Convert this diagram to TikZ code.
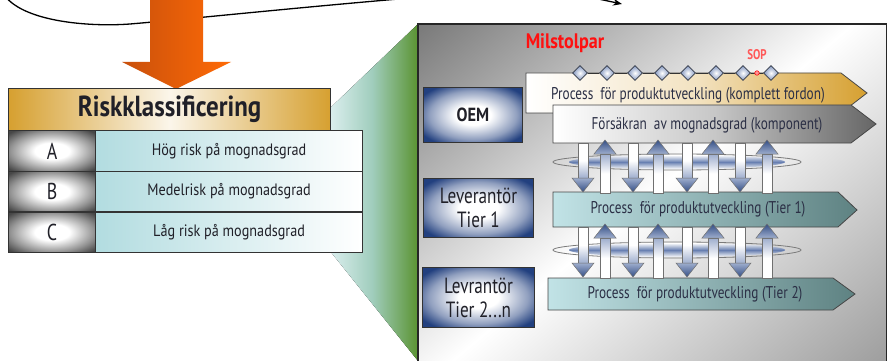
\documentclass[tikz,border=0pt]{standalone}
\usepackage{fontspec}
\setmainfont{PT Sans}
\newfontfamily\condfont{PT Sans}[FakeStretch=0.86]
\newfontfamily\barfont{PT Sans}[FakeStretch=0.78]
\usetikzlibrary{shapes.geometric,arrows.meta,calc}

\definecolor{orangeHi}{HTML}{FF6A06}
\definecolor{orangeLo}{HTML}{C8500C}
\definecolor{goldTone}{HTML}{D6A030}
\definecolor{iceCyan}{HTML}{B2DCE0}
\definecolor{leafGreen}{HTML}{5A9331}
\definecolor{navyTone}{HTML}{22407F}
\definecolor{inkText}{HTML}{202028}
\definecolor{barInk}{HTML}{2B2F45}
\definecolor{slateTeal}{HTML}{5E8282}
\definecolor{steelGray}{HTML}{666666}
\definecolor{steelBlue}{HTML}{3D5C9C}
\definecolor{edgeGray}{HTML}{333333}
\definecolor{signalRed}{HTML}{FF1010}

% box-like glows, stretched to the node that uses them
\pgfdeclareradialshading{navyglow}{\pgfpoint{0bp}{0bp}}{color(0bp)=(white); color(9bp)=(white); color(22bp)=(navyTone!50!white); color(31bp)=(navyTone); color(50bp)=(navyTone)}
\pgfdeclareradialshading{grayglow}{\pgfpoint{0bp}{0bp}}{color(0bp)=(white); color(10bp)=(white); color(24bp)=(black!42); color(33bp)=(black!72); color(50bp)=(black!72)}

\tikzset{
  headercell/.style={draw=edgeGray, line width=1.2pt, left color=goldTone, right color=goldTone, middle color=goldTone!10!white,
    anchor=north west, inner sep=0pt, text=inkText, font=\condfont\bfseries\fontsize{29}{29}\selectfont},
  lettercell/.style={draw=edgeGray, line width=1.2pt, shading=grayglow, anchor=north west, inner sep=0pt,
    minimum width=87pt, minimum height=40.7pt, text=inkText, font=\barfont\fontsize{23}{23}\selectfont},
  riskcell/.style={draw=edgeGray, line width=1.2pt, left color=iceCyan, right color=white, anchor=north west, inner sep=0pt,
    minimum width=267pt, minimum height=40.7pt, text=inkText, font=\condfont\fontsize{16.5}{16.5}\selectfont},
  rolebox/.style={draw=edgeGray, line width=1pt, shading=navyglow, anchor=north west, inner sep=0pt, align=center,
    text=inkText, font=\barfont\fontsize{22}{24}\selectfont},
  bartext/.style={text=barInk, inner sep=0pt, font=\barfont\fontsize{17}{17}\selectfont},
  gem/.style={diamond, draw=edgeGray!80!steelBlue, line width=0.8pt, inner color=white, outer color=steelBlue!65!white,
    minimum width=15pt, minimum height=15pt, inner sep=0pt},
  outline/.style={draw=edgeGray!90, line width=0.8pt},
  flowedge/.style={draw=edgeGray!70, line width=0.5pt},
}

% down-pointing flow arrow: x, top of shaft, tip
\newcommand\flowdown[3]{%
  \path[flowedge, top color=white, bottom color=steelBlue!50!white, middle color=white] (#1-5,#2) rectangle (#1+5,#3-14);
  \path[flowedge, top color=steelBlue!50!white, bottom color=steelBlue!85!black] (#1-11,#3-14) -- (#1+11,#3-14) -- (#1,#3) -- cycle;
}
% up-pointing flow arrow: x, bottom of shaft, tip
\newcommand\flowup[3]{%
  \path[flowedge, bottom color=white, top color=steelBlue!50!white, middle color=white] (#1-5,#2) rectangle (#1+5,#3+14);
  \path[flowedge, bottom color=steelBlue!50!white, top color=steelBlue!85!black] (#1-11,#3+14) -- (#1+11,#3+14) -- (#1,#3) -- cycle;
}
% ring with a blue band around a group of flow arrows: y centre
\newcommand\flowring[1]{%
  \path[top color=white, bottom color=white, middle color=steelBlue!85!white, opacity=0.9] (677,#1) ellipse [x radius=108, y radius=7];
  \draw[edgeGray!65, line width=0.8pt] (677,#1) ellipse [x radius=124, y radius=8];
}

\begin{document}
\begin{tikzpicture}[x=1pt, y=-1pt]
\useasboundingbox (0,0) rectangle (887,361);
\clip (0,0) rectangle (887,361);
\fill[white] (0,0) rectangle (887,361);

% feedback curve along the top edge
\coordinate (curveA) at (5,-4);
\coordinate (curveB) at (460,-6);
\draw[line width=1.3pt] (curveA) .. controls (25,22) and (90,27) .. (130,24) .. controls (190,19) and (330,4) .. (curveB);
\coordinate (tipA) at (530,-14);
\coordinate (tipB) at (622,4);
\draw[line width=1.3pt, -{Stealth[length=9pt,width=7pt]}] (tipA) .. controls (575,-6) .. (tipB);

% perspective funnel between table and panel
\fill[left color=iceCyan!40!white, right color=leafGreen, middle color=iceCyan!80!leafGreen]
  (418,24) -- (418,361) -- (326,246) -- (326,112) -- cycle;

% process panel: diagonal grey sheen
\node[anchor=north west, inner sep=0pt, minimum width=468pt, minimum height=337pt] (panel) at (418,24) {};
\begin{scope}
  \clip (panel.north west) rectangle (panel.south east);
  \shade[transform canvas={rotate around={40:(panel.center)}}, top color=black!62, bottom color=black!45, middle color=white]
    ($(panel.center)+(-620,-330)$) rectangle ($(panel.center)+(620,330)$);
\end{scope}
\draw[black!85, line width=1.5pt] (panel.north west) rectangle (panel.south east);

% orange arrow into the classification
\path[left color=orangeLo, right color=orangeHi]
  (150,-2) -- (203,-2) -- (203,62) -- (231,62) -- (176,89) -- (122,62) -- (150,62) -- cycle;

% classification table
\node[headercell, minimum width=322pt, minimum height=42pt] (hdr) at (8,88) {Riskklassificering};
\node[lettercell] (ra) at (8,130) {A};
\node[riskcell] (rat) at (95,130) {Hög risk på mognadsgrad};
\node[lettercell] (rb) at (8,170.7) {B};
\node[riskcell] (rbt) at (95,170.7) {Medelrisk på mognadsgrad};
\node[lettercell] (rc) at (8,211.3) {C};
\node[riskcell] (rct) at (95,211.3) {Låg risk på mognadsgrad};

% milestone title
\node[text=signalRed, inner sep=0pt, font=\condfont\bfseries\fontsize{21}{21}\selectfont] (mst) at (565,43) {Milstolpar};

% actor boxes
\node[rolebox, minimum width=99pt, minimum height=55pt] (oem) at (423,87) {\condfont\bfseries\fontsize{19}{19}\selectfont OEM};
\node[rolebox, minimum width=110pt, minimum height=59pt] (tier1) at (423,178) {Leverantör\\Tier 1};
\node[rolebox, minimum width=112pt, minimum height=60pt] (tier2) at (422,267) {Levrantör\\Tier 2...n};

% process bars
\path[outline, left color=white, right color=goldTone, middle color=goldTone!30!white]
  (526,73) -- (841,73) -- (867,93) -- (841,113) -- (526,113) -- cycle;
\node[bartext] (bar1) at (688,95) {Process \ för produktutveckling (komplett fordon)};
\path[outline, left color=white, right color=steelGray, middle color=black!22]
  (553,105) -- (851,105) -- (876,124) -- (851,143) -- (553,143) -- cycle;
\node[bartext] (bar2) at (707,125) {Försäkran \ av mognadsgrad (komponent)};
\path[outline, left color=iceCyan!80!white, right color=slateTeal]
  (553,192) -- (838,192) -- (857,210) -- (838,227) -- (553,227) -- cycle;
\node[bartext] (bar3) at (698,209) {Process \ för produktutveckling (Tier 1)};
\path[outline, left color=iceCyan!80!white, right color=slateTeal]
  (548,278) -- (833,278) -- (855,294) -- (833,310) -- (548,310) -- cycle;
\node[bartext] (bar4) at (695,294) {Process \ för produktutveckling (Tier 2)};

% milestones on the vehicle process
\foreach \x [count=\i] in {580,607,635,662,688,716,743,771}
  \node[gem] (m\i) at (\x,73) {};
\foreach \i [evaluate=\i as \j using int(\i+1)] in {1,...,7}
  \draw[edgeGray, line width=0.8pt] (m\i.east) -- (m\j.west);
\node[circle, draw=signalRed, fill=signalRed!45!white, line width=0.6pt, minimum size=4.5pt, inner sep=0pt] (sopmark) at (757,73) {};
\node[text=signalRed!70!white, inner sep=0pt, font=\barfont\bfseries\fontsize{14}{14}\selectfont] (sop) at (757,55) {SOP};

% information exchange OEM <-> Tier 1
\flowring{162}
\foreach \x in {583,633,687,740} { \flowdown{\x}{143}{192} }
\foreach \x in {605,658,713,767} { \flowup{\x}{193}{140} }

% information exchange Tier 1 <-> Tier 2
\flowring{250}
\foreach \x in {583,633,687,740} { \flowdown{\x}{227}{277} }
\foreach \x in {605,658,713,767} { \flowup{\x}{278}{224} }
\end{tikzpicture}
\end{document}
